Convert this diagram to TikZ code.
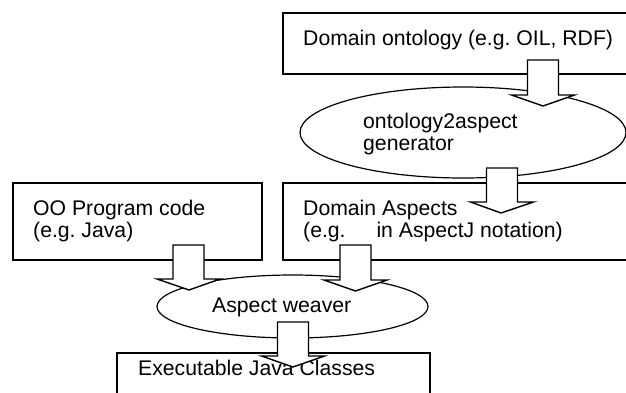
\documentclass[tikz,border=0pt]{standalone}
\usepackage{fontspec}
\setmainfont{Liberation Sans}
\frenchspacing
\usetikzlibrary{shapes.geometric,calc}

\tikzset{
  box/.style={draw, line width=1.8pt, inner sep=0pt},
  oval/.style={draw, ellipse, line width=1.2pt, inner sep=0pt},
  lbl/.style={anchor=base west, inner sep=0pt, align=left},
  fatarrow/.style={draw, fill=white, line width=1.4pt, line join=miter,
    to path={let \p1=(\tikztostart), \p2=(\tikztotarget) in
      (\x1-15.5pt,\y1) -- (\x1-15.5pt,\y2+11pt) -- (\x1-31.5pt,\y2+11pt)
      -- (\x2,\y2) -- (\x1+31.5pt,\y2+11pt) -- (\x1+15.5pt,\y2+11pt)
      -- (\x1+15.5pt,\y1) -- cycle}}
}

\begin{document}
\begin{tikzpicture}[x=1pt, y=-1pt, font=\fontsize{21.2}{22}\selectfont]
\useasboundingbox (0,0) rectangle (626,392);
\clip (0,0) rectangle (626,392);

% boxes
\node[box, minimum width=357pt, minimum height=61pt] (onto) at (461.5,43.5) {};
\node[box, minimum width=357pt, minimum height=77pt] (aspects) at (461.5,221.5) {};
\node[box, minimum width=249pt, minimum height=77pt] (oocode) at (137.5,221.5) {};
\node[box, minimum width=313pt, minimum height=67pt] (exec) at (273.5,386.5) {};

% tools
\node[oval, minimum width=326pt, minimum height=91pt] (gen) at (463,132.5) {};
\node[oval, minimum width=271pt, minimum height=63pt] (weaver) at (292.5,306.5) {};

% texts (base = last line)
\node[lbl] (ontotxt) at (303,45) {Domain ontology (e.g. OIL, RDF)};
\node[lbl] (gentxt) at (363,150) {ontology2aspect\\generator};
\node[lbl] (aspectstxt) at (303,237) {Domain Aspects\\(e.g.\hspace{25pt} in AspectJ notation)};
\node[lbl] (oocodetxt) at (33,237) {OO Program code\\(e.g. Java)};
\node[lbl] (weavertxt) at (212,312) {Aspect weaver};
\node[lbl] (exectxt) at (138,375) {Executable Java Classes};

% block arrows
\coordinate (a1s) at (543,60);    \coordinate (a1e) at (543,106);
\coordinate (a2s) at (502,168);   \coordinate (a2e) at (501,213);
\coordinate (a3s) at (188.5,245); \coordinate (a3e) at (189,290);
\coordinate (a4s) at (355.5,245); \coordinate (a4e) at (355.5,291);
\coordinate (a5s) at (293,322);   \coordinate (a5e) at (293,367);
\draw[fatarrow] (a1s) to (a1e);
\draw[fatarrow] (a2s) to (a2e);
\draw[fatarrow] (a3s) to (a3e);
\draw[fatarrow] (a4s) to (a4e);
\draw[fatarrow] (a5s) to (a5e);
\end{tikzpicture}
\end{document}
